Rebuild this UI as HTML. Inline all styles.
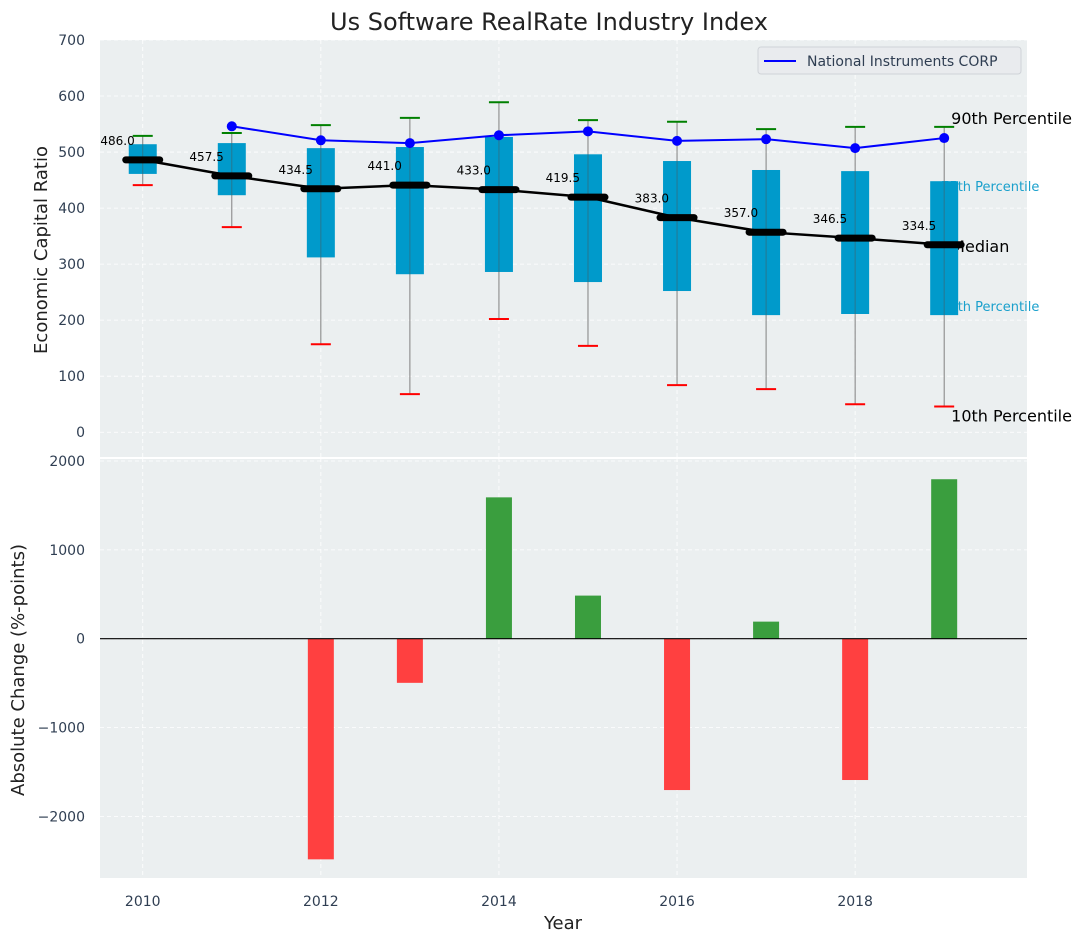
<!DOCTYPE html>
<html><head><meta charset="utf-8"><style>
body{margin:0;background:#fff;}
svg{display:block;font-family:"DejaVu Sans","Liberation Sans",sans-serif;}
</style></head><body>
<svg id="chart" width="1085" height="942" viewBox="0 0 1085 942"></svg>
<script>
const years=[2010,2011,2012,2013,2014,2015,2016,2017,2018,2019];
const p10=[441,366,157,68,202,154,84,77,50,46];
const p25=[461,423,312,282,286,268,252,209,211,209];
const median=[486.0,457.5,434.5,441.0,433.0,419.5,383.0,357.0,346.5,334.5];
const p75=[514,516,507,509,527,496,484,468,466,448];
const p90=[529,534,548,561,589,557,554,541,545,545];
const companyYears=[2011,2012,2013,2014,2015,2016,2017,2018,2019];
const company=[546,521,516,530,537,520,523,507,525];
const changes=[0,0,-2484,-497,1591,485,-1704,192,-1591,1795];
const topTicks=[0,100,200,300,400,500,600,700];
const botTicks=[-2000,-1000,0,1000,2000];
const xTicks=[2010,2012,2014,2016,2018];

const NS="http://www.w3.org/2000/svg";
const svg=document.getElementById('chart');
function el(tag,attrs,parent){const e=document.createElementNS(NS,tag);for(const k in attrs)e.setAttribute(k,attrs[k]);(parent||svg).appendChild(e);return e;}
const L=100,R=1027,T1=40,B1=458,T2=458,B2=878;
const X=v=>L+(v-2009.52)/(2019.93-2009.52)*(R-L);
const Y1=v=>T1+(700-v)/(700-(-46))*(B1-T1);
const Y2=v=>T2+(2034-v)/(2034-(-2694))*(B2-T2);

let bg1=el('rect',{x:L,y:T1,width:R-L,height:B1-T1,fill:'#ebeff0'});


let bg2=el('rect',{x:L,y:T2+1,width:R-L,height:B2-T2-1,fill:'#ebeff0'});


el('line',{x1:L,x2:R,y1:T2,y2:T2,stroke:'#fff','stroke-width':2});

xTicks.forEach(t=>{
  el('line',{x1:X(t),x2:X(t),y1:T1,y2:B1,stroke:'#fff','stroke-dasharray':'4,3','stroke-width':0.8});
  el('line',{x1:X(t),x2:X(t),y1:T2,y2:B2,stroke:'#fff','stroke-dasharray':'4,3','stroke-width':0.8});
  const tx=el('text',{x:X(t),y:906,'text-anchor':'middle','font-size':14,fill:'#2f3e52'});tx.textContent=t;
  
  
});
topTicks.forEach(t=>{
  el('line',{x1:L,x2:R,y1:Y1(t),y2:Y1(t),stroke:'#fff','stroke-dasharray':'4,3','stroke-width':0.8});
  const tx=el('text',{x:85,y:Y1(t)+5,'text-anchor':'end','font-size':14,fill:'#2f3e52'});tx.textContent=t;
  
  
});
botTicks.forEach(t=>{
  el('line',{x1:L,x2:R,y1:Y2(t),y2:Y2(t),stroke:'#fff','stroke-dasharray':'4,3','stroke-width':0.8});
  const tx=el('text',{x:85,y:Y2(t)+5,'text-anchor':'end','font-size':14,fill:'#2f3e52'});tx.textContent=String(t).replace('-','\u2212');
  
  
});

const lastX=X(years[years.length-1]);
const sideLabels=[['90th Percentile',Y1(p90[9])-3,16,'#000','label-90th',7],['75th Percentile',Y1(p75[9])+10,13,'#1aa0cc','label-75th',-3],['Median',Y1(median[9])+7,16,'#000','label-median',7],['25th Percentile',Y1(p25[9])-4,13,'#1aa0cc','label-25th',-3],['10th Percentile',Y1(p10[9])+15,16,'#000','label-10th',7]];
sideLabels.forEach(([s,y,fs,c,n,dx])=>{
  const tx=el('text',{x:lastX+dx,y:y,'font-size':fs,fill:c});tx.textContent=s;
  
  
});

years.forEach((yr,i)=>{
  const cx=X(yr);
  el('line',{x1:cx,x2:cx,y1:Y1(p10[i]),y2:Y1(p90[i]),stroke:'#808080','stroke-width':1});
  const b=el('rect',{x:cx-14,y:Y1(p75[i]),width:28,height:Y1(p25[i])-Y1(p75[i]),fill:'#009acb'});
  
  
  el('line',{x1:cx,x2:cx,y1:Y1(p75[i]),y2:Y1(p25[i]),stroke:'#40606a','stroke-width':1,opacity:0.6});
  const hi=el('line',{x1:cx-10,x2:cx+10,y1:Y1(p90[i]),y2:Y1(p90[i]),stroke:'#008000','stroke-width':2});
  
  
  const lo=el('line',{x1:cx-10,x2:cx+10,y1:Y1(p10[i]),y2:Y1(p10[i]),stroke:'#ff0000','stroke-width':2});
  
  
});
const ml=el('polyline',{points:years.map((y,i)=>X(y)+','+Y1(median[i])).join(' '),fill:'none',stroke:'#000','stroke-width':2.5});


years.forEach((yr,i)=>{
  const m=el('line',{x1:X(yr)-17,x2:X(yr)+17,y1:Y1(median[i]),y2:Y1(median[i]),stroke:'#000','stroke-width':7,'stroke-linecap':'round'});
  
  
  const t=el('text',{x:X(yr)-8,y:Y1(median[i])-15,'text-anchor':'end','font-size':12,fill:'#000'});t.textContent=median[i].toFixed(1);
  
  
});
const cl=el('polyline',{points:companyYears.map((y,i)=>X(y)+','+Y1(company[i])).join(' '),fill:'none',stroke:'#0000ff','stroke-width':2});


companyYears.forEach((yr,i)=>{
  const c=el('circle',{cx:X(yr),cy:Y1(company[i]),r:5,fill:'#0000ff'});
  
  
});

const lg=el('g',{});


el('rect',{x:758,y:47,width:263,height:27,rx:3,fill:'#e9ebee',stroke:'#cfd3d8'},lg);
el('line',{x1:764,x2:796,y1:61,y2:61,stroke:'#0000ff','stroke-width':2},lg);
const lt=el('text',{x:807,y:66,'font-size':14,fill:'#2f3e52'},lg);lt.textContent='National Instruments CORP';

years.forEach((yr,i)=>{
  const v=changes[i];if(v===0)return;
  const y0=Y2(0),y1=Y2(v);
  const b=el('rect',{x:X(yr)-13,y:Math.min(y0,y1),width:26,height:Math.abs(y1-y0),fill:v>0?'#3a9e3e':'#ff4040'});
  
  
});
el('line',{x1:L,x2:R,y1:Y2(0),y2:Y2(0),stroke:'#000','stroke-width':1.2});

const tt=el('text',{x:549,y:30,'text-anchor':'middle','font-size':24,fill:'#222'});tt.textContent='Us Software RealRate Industry Index';


const xl=el('text',{x:563,y:929,'text-anchor':'middle','font-size':18,fill:'#222'});xl.textContent='Year';


const y1l=el('text',{x:0,y:0,'text-anchor':'middle','font-size':18,fill:'#222',transform:'translate(47,250) rotate(-90)'});y1l.textContent='Economic Capital Ratio';


const y2l=el('text',{x:0,y:0,'text-anchor':'middle','font-size':18,fill:'#222',transform:'translate(24,670) rotate(-90)'});y2l.textContent='Absolute Change (%-points)';


</script>
</body></html>
